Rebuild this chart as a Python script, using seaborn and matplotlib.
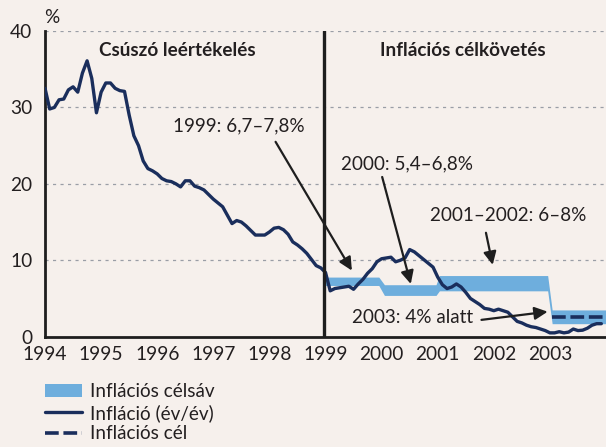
import numpy as np
import pandas as pd
import matplotlib
matplotlib.use("Agg")
import matplotlib.pyplot as plt
from matplotlib.patches import Patch
from matplotlib.lines import Line2D
import seaborn as sns

# Monthly year-on-year inflation, Jan 1994 .. Dec 2003 (%)
infl_1994 = [32.5, 29.8, 30.0, 31.0, 31.1, 32.3, 32.7, 32.0, 34.5, 36.1, 33.8, 29.3]
infl_1995 = [32.0, 33.2, 33.2, 32.5, 32.2, 32.1, 29.0, 26.3, 25.0, 23.0, 22.0, 21.7]
infl_1996 = [21.3, 20.7, 20.4, 20.3, 20.0, 19.6, 20.4, 20.4, 19.7, 19.5, 19.2, 18.6]
infl_1997 = [18.0, 17.5, 17.0, 15.9, 14.8, 15.2, 15.0, 14.5, 13.9, 13.3, 13.3, 13.3]
infl_1998 = [13.7, 14.2, 14.3, 14.0, 13.4, 12.4, 12.0, 11.5, 10.9, 10.1, 9.3, 9.0]
infl_1999 = [8.4, 6.0, 6.3, 6.4, 6.5, 6.6, 6.2, 6.9, 7.5, 8.3, 8.9, 9.8]
infl_2000 = [10.2, 10.3, 10.4, 9.8, 10.0, 10.3, 11.4, 11.1, 10.6, 10.1, 9.6, 9.1]
infl_2001 = [7.8, 6.8, 6.3, 6.5, 6.9, 6.5, 5.8, 5.0, 4.6, 4.2, 3.7, 3.6]
infl_2002 = [3.4, 3.6, 3.4, 3.2, 2.6, 2.0, 1.8, 1.5, 1.3, 1.2, 1.0, 0.8]
infl_2003 = [0.5, 0.5, 0.65, 0.5, 0.6, 1.0, 0.8, 0.85, 1.1, 1.5, 1.7, 1.7]

# Inflation target band (corner points of the band outline)
band_x = [1999.0, 1999.95, 2000.05, 2000.97, 2001.03, 2002.96, 2003.04, 2004.0]
band_lo = [6.7, 6.7, 5.4, 5.4, 6.0, 6.0, 1.7, 1.7]
band_hi = [7.8, 7.8, 6.8, 6.8, 8.0, 8.0, 3.5, 3.5]

# Point target for 2003
target_x = [2003.04, 2004.0]
target_y = [2.6, 2.6]

year_ticks = list(range(1994, 2004))
y_ticks = [0, 10, 20, 30, 40]

infl = (infl_1994 + infl_1995 + infl_1996 + infl_1997 + infl_1998 +
        infl_1999 + infl_2000 + infl_2001 + infl_2002 + infl_2003)
t = [1994 + i / 12 for i in range(len(infl))]
df = pd.DataFrame({"t": t, "infl": infl})

BG = "#f6f0ec"
NAVY = "#1a2e5c"
BAND = "#6eaedd"
TXT = "#231f20"
FS = 13.6
DASH = (0, (3.8, 1.3))

sns.set_theme(style="white")
plt.rcParams["font.family"] = ["Lato", "DejaVu Sans"]

fig = plt.figure(figsize=(6.06, 4.47), dpi=100, facecolor=BG)
ax = fig.add_axes([0.0743, 0.2468, 0.9257, 0.6838])
ax.set_facecolor(BG)

# grid
for v in y_ticks[1:]:
    ax.axhline(v, color="#9a9ea6", lw=0.9, ls=(0, (2.5, 3.5)), zorder=0)

ax.fill_between(band_x, band_lo, band_hi, color=BAND, lw=0, zorder=2)
sns.lineplot(data=df, x="t", y="infl", ax=ax, color=NAVY, lw=2.4, zorder=4)
ax.plot(target_x, target_y, color=NAVY, lw=2.6, ls=DASH, zorder=5)

ax.axvline(1998.98, color="#1e1e1e", lw=2.4, zorder=6)

ax.set_xlim(1994, 2004)
ax.set_ylim(0, 40)
ax.set_xticks(year_ticks)
ax.set_yticks(y_ticks)
ax.set_xlabel("")
ax.set_ylabel("")
for s in ["top", "right"]:
    ax.spines[s].set_visible(False)
for s in ["left", "bottom"]:
    ax.spines[s].set_color("#1e1e1e")
    ax.spines[s].set_linewidth(2.0)
ax.tick_params(axis="both", direction="out", length=5, width=1.6, color="#1e1e1e",
               labelsize=13.8, labelcolor=TXT, pad=1.5)
ax.tick_params(axis="y", pad=4)

ax.text(-0.002, 1.045, "%", transform=ax.transAxes, fontsize=FS, color=TXT,
        ha="left", va="center")

ax.text(1996.35, 37.4, "Csúszó leértékelés", fontsize=FS, fontweight="bold",
        color=TXT, ha="center", va="center")
ax.text(2001.45, 37.4, "Inflációs célkövetés", fontsize=FS, fontweight="bold",
        color=TXT, ha="center", va="center")

arrow_kw = dict(arrowstyle="-|>,head_length=0.65,head_width=0.32", color="#1e1e1e",
                lw=1.6, shrinkA=0, shrinkB=0)
ax.text(1997.45, 27.6, "1999: 6,7–7,8%", fontsize=FS, color=TXT, ha="center", va="center")
ax.annotate("", xy=(1999.47, 8.65), xytext=(1998.11, 25.5), arrowprops=arrow_kw, zorder=7)

ax.text(2000.45, 22.6, "2000: 5,4–6,8%", fontsize=FS, color=TXT, ha="center", va="center")
ax.annotate("", xy=(2000.52, 6.9), xytext=(2000.01, 20.9), arrowprops=arrow_kw, zorder=7)

ax.text(2002.25, 15.8, "2001–2002: 6–8%", fontsize=FS, color=TXT, ha="center", va="center")
ax.annotate("", xy=(2001.98, 9.4), xytext=(2001.86, 13.6), arrowprops=arrow_kw, zorder=7)

ax.text(2000.55, 2.55, "2003: 4% alatt", fontsize=FS, color=TXT, ha="center", va="center")
ax.annotate("", xy=(2002.96, 3.27), xytext=(2001.78, 2.2), arrowprops=arrow_kw, zorder=7)

handles = [
    Patch(facecolor=BAND, edgecolor="none", label="Inflációs célsáv"),
    Line2D([], [], color=NAVY, lw=2.4, label="Infláció (év/év)"),
    Line2D([], [], color=NAVY, lw=2.6, ls=DASH, label="Inflációs cél"),
]
fig.legend(handles=handles, loc="upper left", bbox_to_anchor=(45 / 606, 1 - 383 / 447),
           frameon=False, fontsize=FS, labelcolor=TXT, borderpad=0, borderaxespad=0,
           handlelength=1.95, handleheight=0.65, handletextpad=0.45, labelspacing=0.2)

fig.savefig("out.png", dpi=100, facecolor=BG)
